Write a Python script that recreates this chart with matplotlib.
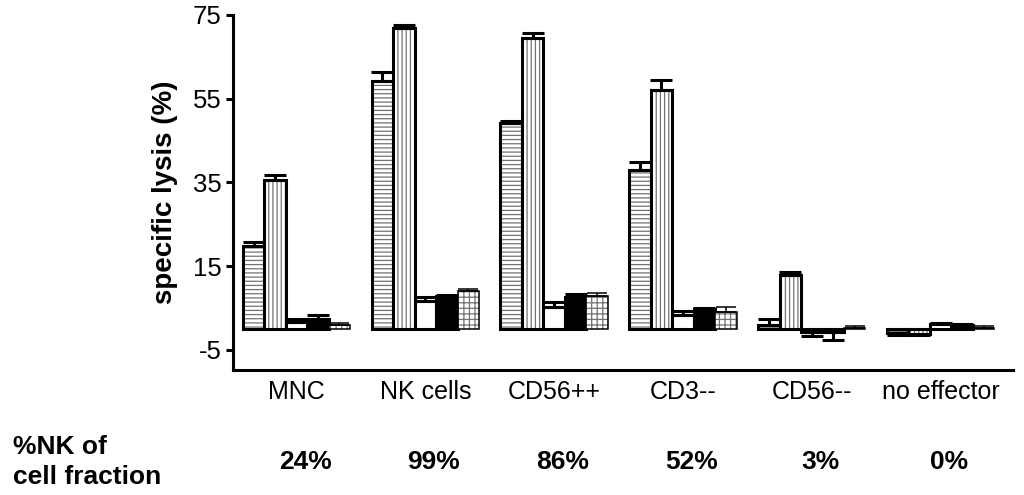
import matplotlib
matplotlib.use("Agg")
import matplotlib.pyplot as plt
import matplotlib.transforms as mtransforms
import numpy as np

plt.rcParams['font.family'] = ['Liberation Sans', 'DejaVu Sans']
plt.rcParams['hatch.linewidth'] = 0.9
plt.rcParams['axes.unicode_minus'] = False

# groups (effector cell fractions) and the share of NK cells in each
groups = ['MNC', 'NK cells', 'CD56++', 'CD3--', 'CD56--', 'no effector']
nk_share = ['24%', '99%', '86%', '52%', '3%', '0%']

# five bars per group (specific lysis, %)
lysis_hstripe = [19.8, 59.2, 49.2, 38.0, 1.0, -1.0]
lysis_vstripe = [35.6, 71.8, 69.5, 57.0, 12.9, -1.2]
lysis_white = [1.7, 6.7, 5.3, 3.3, -0.8, 1.2]
lysis_black = [2.4, 7.9, 7.6, 4.8, -0.8, 0.9]
lysis_grid = [1.0, 9.1, 7.9, 4.1, 0.2, 0.2]

err_hstripe = [1.0, 2.2, 0.4, 2.0, 1.4, 0.5]
err_vstripe = [1.2, 0.7, 1.2, 2.4, 0.7, 0.2]
err_white = [0.7, 1.0, 1.2, 1.0, 0.8, 0.3]
err_black = [1.0, 0.3, 0.7, 0.3, 1.9, 0.3]
err_grid = [0.4, 0.4, 0.8, 1.1, 0.5, 0.5]

series = [
    (lysis_hstripe, err_hstripe, 'white', '----', 2.2),
    (lysis_vstripe, err_vstripe, 'white', '||||', 2.2),
    (lysis_white, err_white, 'white', '', 2.2),
    (lysis_black, err_black, 'black', '', 2.2),
    (lysis_grid, err_grid, 'white', '+++', 1.1),
]

fig = plt.figure(figsize=(10.24, 4.95), dpi=100)
ax = fig.add_axes([0.2275, 0.2525, 0.7617, 0.7172])

group_x = np.arange(len(groups)) * 6
for j, (vals, errs, fc, hatch, lw) in enumerate(series):
    x = group_x + j
    vals = np.array(vals)
    errs = np.array(errs)
    # hatch layer (grey lines), then black outline on top
    ax.bar(x, vals, width=1.0, color=fc, edgecolor='0.45', hatch=hatch, linewidth=0)
    ax.bar(x, vals, width=1.0, fill=(fc == 'black'), facecolor=fc,
           edgecolor='black', linewidth=lw)
    lower = np.where(vals < 0, errs, 0)
    upper = np.where(vals >= 0, errs, 0)
    ax.errorbar(x, vals, yerr=[lower, upper], fmt='none', ecolor='black',
                elinewidth=lw, capsize=8 if lw > 2 else 7, capthick=lw, zorder=1)

ax.set_xlim(-0.96, 35.37)
ax.set_ylim(-9.8, 75)
ax.set_yticks([-5, 15, 35, 55, 75])
ax.set_xticks([])
ax.spines['top'].set_visible(False)
ax.spines['right'].set_visible(False)
ax.spines['left'].set_linewidth(2.2)
ax.spines['bottom'].set_linewidth(2.2)
ax.tick_params(axis='y', direction='out', length=5, width=2.2, pad=3, labelsize=18.5)
ax.set_ylabel('specific lysis (%)', fontsize=20, fontweight='bold')
ax.yaxis.set_label_coords(-0.07, 0.5)

trans = mtransforms.blended_transform_factory(ax.transData, fig.transFigure)
for gx, name, share in zip(group_x, groups, nk_share):
    ax.text(gx + 2, 0.194, name, transform=trans, ha='center', va='baseline',
            fontsize=18)
    ax.text(gx + 2.4, 0.0525, share, transform=trans, ha='center', va='baseline',
            fontsize=19, fontweight='bold')

fig.text(0.013, 0.0828, '%NK of', ha='left', va='baseline', fontsize=19,
         fontweight='bold')
fig.text(0.013, 0.0222, 'cell fraction', ha='left', va='baseline', fontsize=19,
         fontweight='bold')

fig.savefig('out.png', dpi=100)
